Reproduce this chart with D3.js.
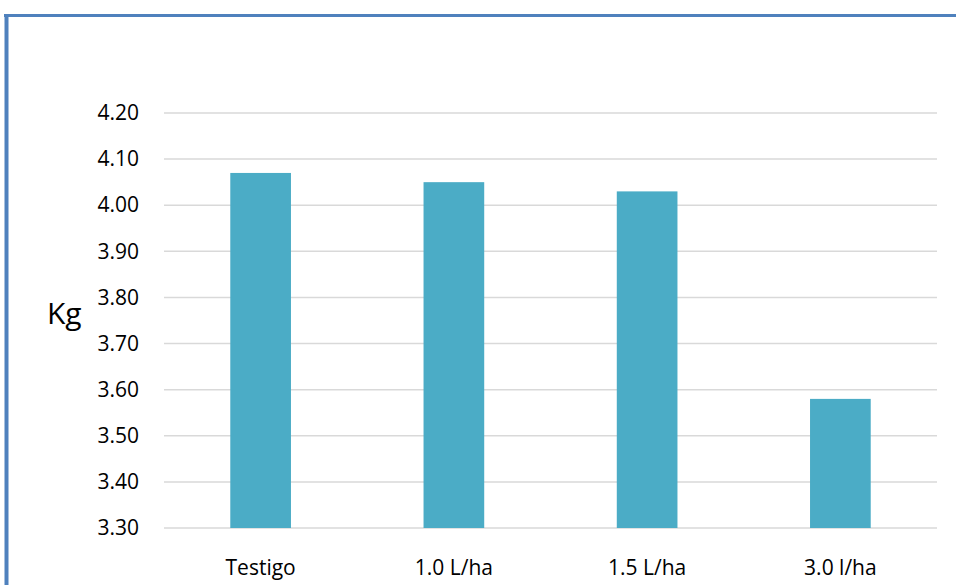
<!DOCTYPE html>
<html>
<head>
<meta charset="utf-8">
<script src="https://cdn.jsdelivr.net/npm/d3@7"></script>
<style>
  html, body { margin: 0; padding: 0; background: #fff; }
  svg { display: block; }
  text { font-family: "Open Sans", "Lato", sans-serif; fill: #000; }
</style>
</head>
<body>
<svg id="chart" width="956" height="585"></svg>
<script>
// Categories and their values (kg)
const categories = ["Testigo", "1.0 L/ha", "1.5 L/ha", "3.0 l/ha"];
const values = [4.07, 4.05, 4.03, 3.58];
const yTicks = [3.30, 3.40, 3.50, 3.60, 3.70, 3.80, 3.90, 4.00, 4.10, 4.20];
const yLabel = "Kg";

const W = 956, H = 585;
const margin = { top: 113, right: 19, bottom: 57, left: 164 };

const svg = d3.select("#chart");

// Frame of the chart area (blue border, top and left visible)
svg.append("line")
  .attr("x1", 4).attr("x2", W).attr("y1", 15.5).attr("y2", 15.5)
  .attr("stroke", "#4F81BD").attr("stroke-width", 3);
svg.append("line")
  .attr("x1", 6.5).attr("x2", 6.5).attr("y1", 14).attr("y2", H)
  .attr("stroke", "#4F81BD").attr("stroke-width", 4);

const x = d3.scaleBand()
  .domain(categories)
  .range([margin.left, W - margin.right])
  .paddingInner(0.686)
  .paddingOuter(0.343);

const y = d3.scaleLinear()
  .domain([3.30, 4.20])
  .range([H - margin.bottom, margin.top]);

// Horizontal gridlines
svg.append("g")
  .selectAll("line")
  .data(yTicks)
  .join("line")
  .attr("x1", margin.left)
  .attr("x2", W - margin.right)
  .attr("y1", d => y(d))
  .attr("y2", d => y(d))
  .attr("stroke", "#d9d9d9")
  .attr("stroke-width", 1.5);

// Y axis tick labels
const yAxis = d3.axisLeft(y)
  .tickValues(yTicks)
  .tickFormat(d3.format(".2f"))
  .tickSize(0)
  .tickPadding(25);
const gy = svg.append("g")
  .attr("transform", `translate(${margin.left},0)`)
  .call(yAxis);
gy.select(".domain").remove();
gy.selectAll("text")
  .style("font-family", '"Open Sans", "Lato", sans-serif')
  .style("font-size", "21px")
  .attr("fill", "#000");

// Bars
svg.append("g")
  .selectAll("rect")
  .data(categories.map((c, i) => ({ c, v: values[i] })))
  .join("rect")
  .attr("x", d => x(d.c))
  .attr("width", x.bandwidth())
  .attr("y", d => y(d.v))
  .attr("height", d => y(3.30) - y(d.v))
  .attr("fill", "#4BACC6");

// X axis category labels
const xAxis = d3.axisBottom(x).tickSize(0).tickPadding(32);
const gx = svg.append("g")
  .attr("transform", `translate(0,${H - margin.bottom})`)
  .call(xAxis);
gx.select(".domain").remove();
gx.selectAll("text")
  .style("font-family", '"Open Sans", "Lato", sans-serif')
  .style("font-size", "21px")
  .attr("fill", "#000");

// Y axis title
svg.append("text")
  .attr("x", 47)
  .attr("y", 324)
  .style("font-size", "30px")
  .text(yLabel);
</script>
</body>
</html>
